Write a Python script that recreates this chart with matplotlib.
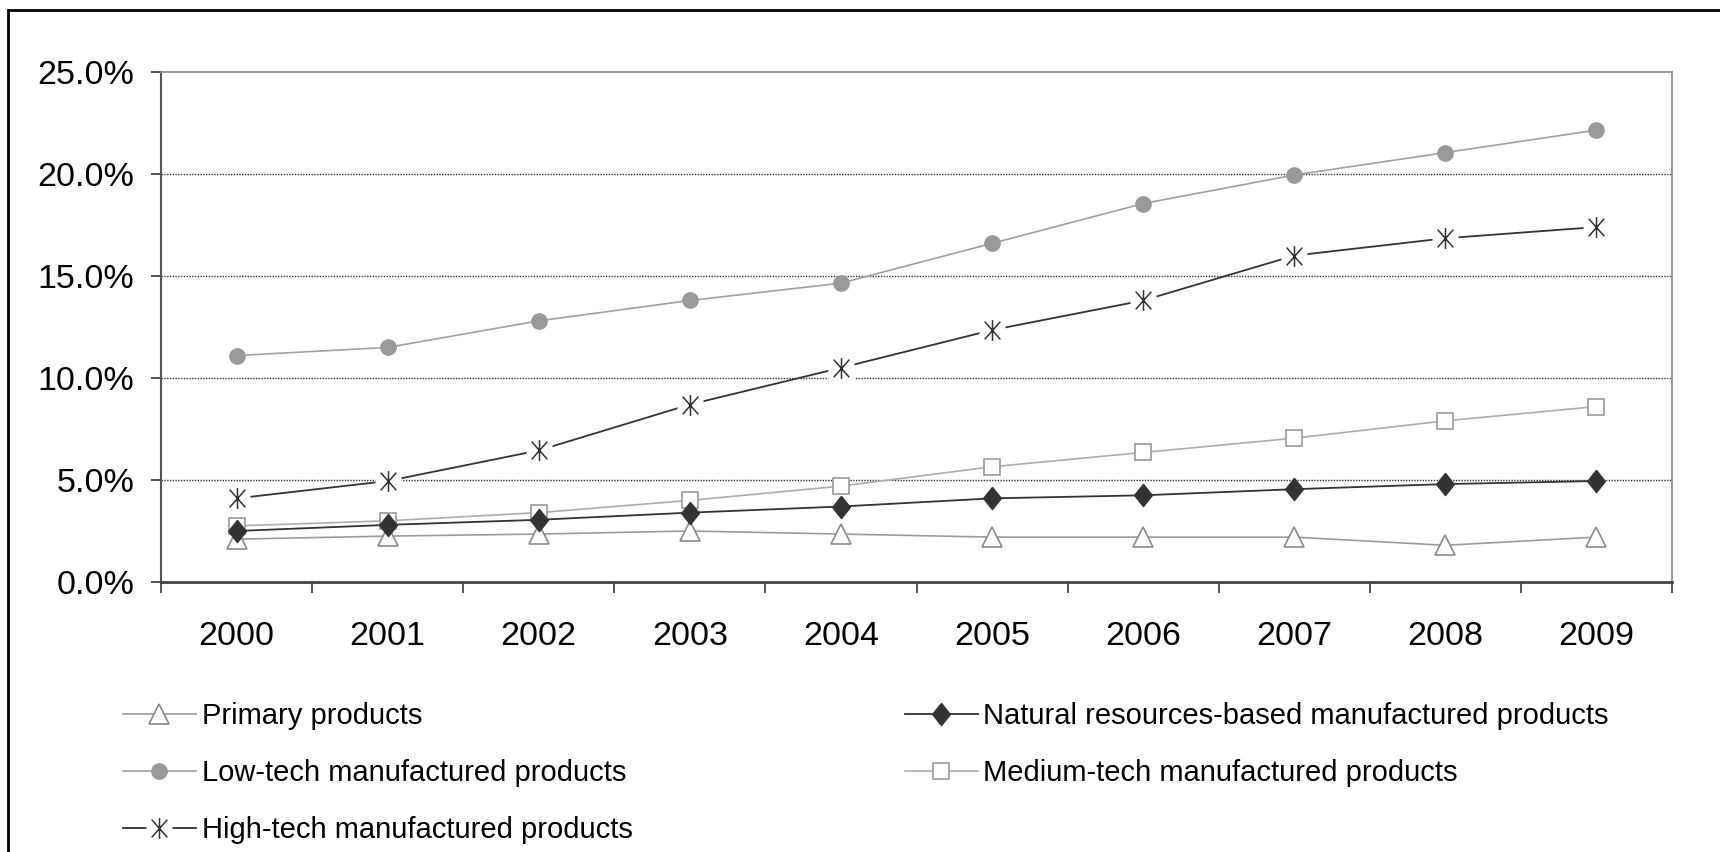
import matplotlib.pyplot as plt
import numpy as np
from matplotlib.path import Path
from matplotlib.ticker import FuncFormatter
from matplotlib.legend_handler import HandlerTuple

plt.rcParams['font.family'] = ['Liberation Sans', 'DejaVu Sans']

years = ['2000', '2001', '2002', '2003', '2004', '2005', '2006', '2007', '2008', '2009']
primary = [2.1, 2.25, 2.35, 2.5, 2.35, 2.2, 2.2, 2.2, 1.8, 2.2]
natural = [2.5, 2.8, 3.05, 3.4, 3.7, 4.1, 4.25, 4.55, 4.8, 4.95]
low_tech = [11.1, 11.5, 12.8, 13.8, 14.65, 16.6, 18.55, 19.95, 21.05, 22.15]
medium_tech = [2.75, 3.0, 3.4, 4.0, 4.7, 5.65, 6.35, 7.05, 7.9, 8.6]
high_tech = [4.1, 4.95, 6.45, 8.7, 10.5, 12.35, 13.8, 16.0, 16.85, 17.4]

labels = ['Primary products', 'Natural resources-based manufactured products',
          'Low-tech manufactured products', 'Medium-tech manufactured products',
          'High-tech manufactured products']

# excel style star: X plus vertical bar
star = Path([(0, -1), (0, 1), (-0.75, -0.85), (0.75, 0.85), (-0.75, 0.85), (0.75, -0.85)],
            [Path.MOVETO, Path.LINETO, Path.MOVETO, Path.LINETO, Path.MOVETO, Path.LINETO])
diamond = [(0, 1), (0.8, 0), (0, -1), (-0.8, 0), (0, 1)]

fig = plt.figure(figsize=(17.2, 8.52), dpi=100)
ax = fig.add_axes([0.0936, 0.3169, 0.8785, 0.5986])
x = np.arange(len(years))

l_prim, = ax.plot(x, primary, color='#9a9a9a', lw=1.2, marker='^', ms=14,
                  mfc='white', mec='#8a8a8a', mew=1.2, zorder=3)
l_nat, = ax.plot(x, natural, color='#333333', lw=1.3, marker=diamond, ms=16,
                 mfc='#333333', mec='#333333', zorder=4)
l_low, = ax.plot(x, low_tech, color='#a0a0a0', lw=1.2, marker='o', ms=11,
                 mfc='#999999', mec='#999999', zorder=3)
l_med, = ax.plot(x, medium_tech, color='#acacac', lw=1.2, marker='s', ms=11.5,
                 mfc='white', mec='#999999', mew=1.2, zorder=3)
l_hline, = ax.plot(x, high_tech, color='#333333', lw=1.3, zorder=3)
l_halo, = ax.plot(x, high_tech, ls='none', marker='s', ms=19, mfc='white', mec='none', zorder=4)
l_star, = ax.plot(x, high_tech, ls='none', marker=star, ms=15, mec='#333333', mew=1.1, zorder=5)

ax.set_xlim(-0.5, 9.5)
ax.set_ylim(0, 25)
ax.set_yticks([0, 5, 10, 15, 20, 25])
ax.yaxis.set_major_formatter(FuncFormatter(lambda v, p: '%.1f%%' % v))
ax.set_xticks(x)
ax.set_xticklabels(years)
ax.set_xticks(np.arange(-0.5, 10, 1), minor=True)
ax.tick_params(axis='x', which='major', length=0, pad=28, labelsize=24.5)
ax.tick_params(axis='x', which='minor', length=8, width=1.2, color='#333333', direction='out')
ax.tick_params(axis='y', length=7, width=1.2, color='#333333', direction='out', pad=12, labelsize=24.5)

for v in [5, 10, 15, 20]:
    ax.axhline(v, color='#333333', lw=1.0, ls=(0, (1, 1)), zorder=1)

ax.spines['left'].set_color('#555555')
ax.spines['left'].set_linewidth(1.5)
ax.spines['bottom'].set_color('#444444')
ax.spines['bottom'].set_linewidth(2)
ax.spines['top'].set_color('#888888')
ax.spines['top'].set_linewidth(1.2)
ax.spines['right'].set_color('#888888')
ax.spines['right'].set_linewidth(1.2)

kw = dict(loc='upper left', frameon=False, borderpad=0, fontsize=21,
          handlelength=2.5, handletextpad=0.2, labelspacing=1.0, borderaxespad=0,
          handler_map={tuple: HandlerTuple(ndivide=1)})
fig.legend([l_prim, l_low, (l_hline, l_halo, l_star)], [labels[0], labels[2], labels[4]],
           bbox_to_anchor=(0.0715, 0.176), **kw)
fig.legend([l_nat, l_med], [labels[1], labels[3]],
           bbox_to_anchor=(0.526, 0.176), **kw)

# outer chart border
fig.add_artist(plt.Rectangle((0.0047, -0.01), 1.0, 0.998, transform=fig.transFigure,
                             fill=False, ec='black', lw=2))

fig.savefig('out.png', dpi=100)
